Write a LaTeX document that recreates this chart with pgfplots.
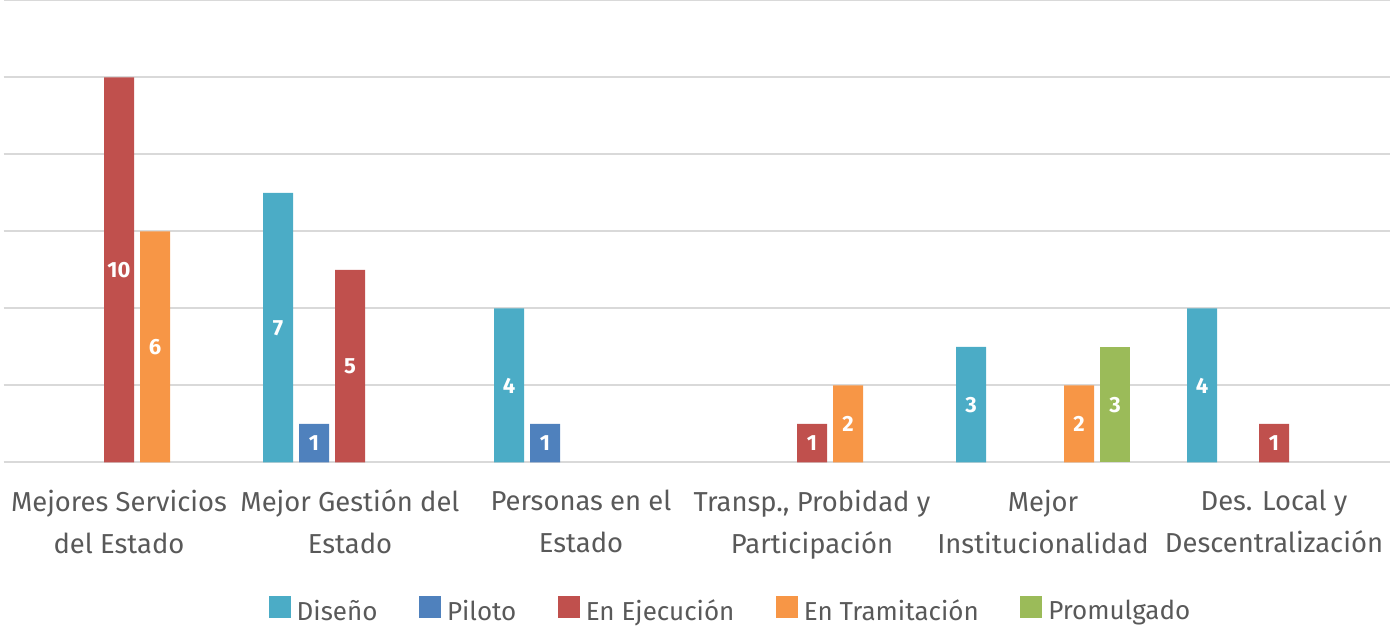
\documentclass[border=0pt]{standalone}
\usepackage{pgfplots}
\pgfplotsset{compat=1.18}
\usepackage{fontspec}
\setmainfont{Fira Sans}
\definecolor{cDis}{HTML}{4BACC6}
\definecolor{cPil}{HTML}{4F81BD}
\definecolor{cEje}{HTML}{C0504D}
\definecolor{cTra}{HTML}{F79646}
\definecolor{cPro}{HTML}{9BBB59}
\definecolor{txt}{HTML}{595959}
\definecolor{grd}{HTML}{D9D9D9}
\pgfplotsset{
  myleg/.style={legend image code/.code={\fill[#1] (0pt,-3pt) rectangle (11pt,8pt);}},
}
\begin{document}
\begin{tikzpicture}
\begin{axis}[name=ax, scale only axis, width=693pt, height=231pt,
  xmin=-0.5, xmax=5.5, ymin=0, ymax=12,
  ybar=3pt, bar width=15pt,
  /pgf/number format/assume math mode=true,
  axis line style={draw=none}, major tick length=0pt,
  ymajorgrids, grid style={grd, line width=1pt},
  ytick={0,2,...,12}, yticklabels={},
  xtick={0,...,5},
  xticklabels={{Mejores Servicios\\del Estado},{Mejor Gestión del\\Estado},{Personas en el\\Estado},{Transp., Probidad y\\Participación},{Mejor\\Institucionalidad},{Des. Local y\\Descentralización}},
  xticklabel style={align=center, anchor=north, inner sep=0pt, yshift=-13.5pt, text=txt, font=\fontsize{13.7}{21}\selectfont},
  visualization depends on={rawy \as \rawy},
  nodes near coords,
  every node near coord/.append style={anchor=center, yshift=-\rawy*9.625pt, text=white, font=\bfseries\fontsize{11}{11}\selectfont},
  legend columns=5,
  legend style={at={(0.5,0)}, anchor=center, yshift=-74.5pt, xshift=17.5pt, draw=none, fill=none, text=txt, font=\fontsize{13}{15}\selectfont,
    /tikz/every even column/.append style={column sep=18.75pt},
    /tikz/every odd column/.append style={column sep=1pt}},
]
\addplot[fill=cDis, draw=none, myleg] coordinates {(1,7) (2,4) (4,3) (5,4)};
\addplot[fill=cPil, draw=none, myleg] coordinates {(1,1) (2,1)};
\addplot[fill=cEje, draw=none, myleg] coordinates {(0,10) (1,5) (3,1) (5,1)};
\addplot[fill=cTra, draw=none, myleg] coordinates {(0,6) (3,2) (4,2)};
\addplot[fill=cPro, draw=none, myleg] coordinates {(4,3)};
\legend{Diseño,Piloto,En Ejecución,En Tramitación,Promulgado}
\end{axis}
\pgfresetboundingbox
\path ([xshift=-1.75pt,yshift=-86pt]ax.south west) rectangle ([xshift=3.75pt,yshift=0.25pt]ax.north east);
\end{tikzpicture}
\end{document}
